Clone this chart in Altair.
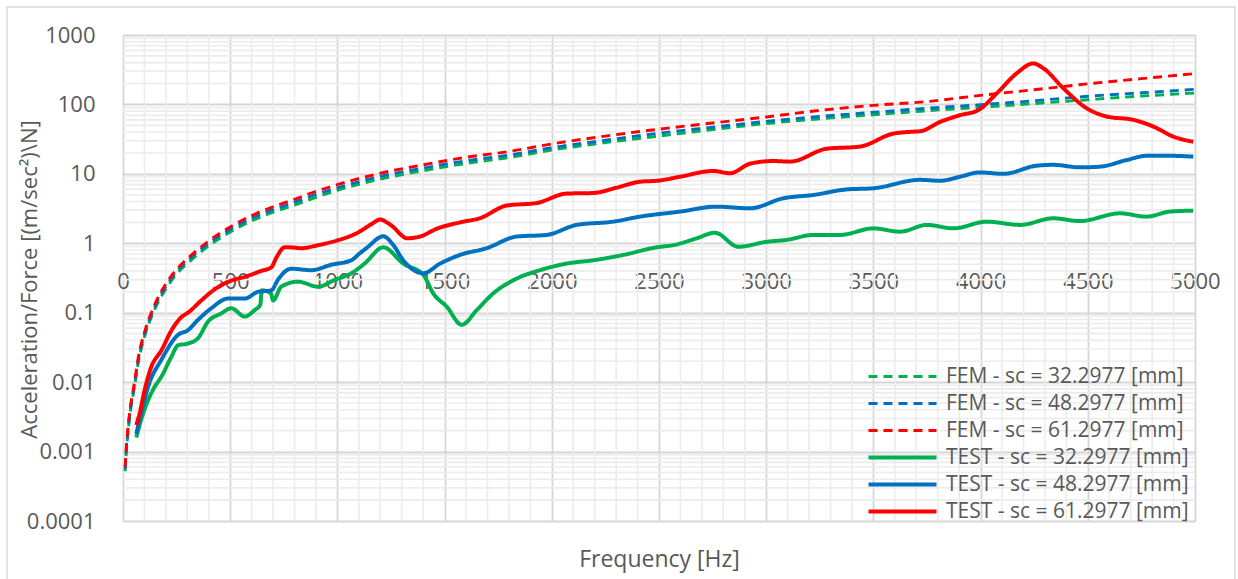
import altair as alt
import pandas as pd

# ---------------- data ----------------
SERIES = [
    "FEM - sc = 32.2977 [mm]",
    "FEM - sc = 48.2977 [mm]",
    "FEM - sc = 61.2977 [mm]",
    "TEST - sc = 32.2977 [mm]",
    "TEST - sc = 48.2977 [mm]",
    "TEST - sc = 61.2977 [mm]",
]
COLORS = ["#00b050", "#0070c0", "#ff0000", "#00b050", "#0070c0", "#ff0000"]
DASHES = [[9, 6], [9, 6], [9, 6], [1, 0], [1, 0], [1, 0]]
WIDTHS = [2.9, 2.9, 2.9, 4, 4, 4]

FEM_FREQ = [10, 15, 25, 35, 50, 75, 100, 150, 200, 250, 300, 400, 500, 600, 700, 800,
            900, 1000, 1200, 1400, 1600, 1800, 2000, 2250, 2500, 2750, 3000, 3250,
            3500, 3750, 4000, 4250, 4500, 4750, 5000]
FEM_32 = [0.00052, 0.00095, 0.0021, 0.0039, 0.0073, 0.022, 0.045, 0.115, 0.22, 0.36,
          0.51, 0.92, 1.45, 2.1, 2.8, 3.55, 4.6, 5.8, 8.4, 11.1, 14.1, 17.2, 22, 28.2,
          35, 43.5, 53, 62, 71, 81, 91, 103, 117, 132, 146]
FEM_48 = [0.00056, 0.001, 0.0023, 0.0042, 0.0079, 0.024, 0.048, 0.125, 0.24, 0.39,
          0.555, 1.0, 1.58, 2.3, 3.05, 3.9, 5.05, 6.3, 9.2, 12.1, 15.4, 18.6, 23.8, 30.5,
          38.5, 47, 57, 67, 77, 88, 99, 113, 131, 147, 165]
FEM_61 = [0.0006, 0.0011, 0.0025, 0.0045, 0.0085, 0.026, 0.052, 0.135, 0.26, 0.42,
          0.6, 1.08, 1.72, 2.5, 3.35, 4.3, 5.6, 7.0, 10.2, 13.5, 17.3, 21, 27, 35,
          44, 54, 66, 82, 97, 110, 135, 163, 198, 235, 278]

TEST_32_FREQ = [62, 85, 117, 148, 179, 225, 257, 303, 350, 396, 459, 505, 568, 614, 640,
                648, 690, 700, 738, 816, 910, 987, 1065, 1127, 1214, 1307, 1401, 1447,
                1510, 1580, 1650, 1727, 1836, 1945, 2069, 2194, 2334, 2489, 2567, 2676,
                2761, 2870, 3002, 3096, 3220, 3344, 3500, 3624, 3750, 3873, 4029, 4184,
                4339, 4463, 4650, 4774, 4883, 4992]
TEST_32 = [0.0016, 0.0029, 0.0055, 0.0086, 0.012, 0.023, 0.034, 0.036, 0.043, 0.074,
           0.098, 0.116, 0.088, 0.109, 0.13, 0.21, 0.19, 0.15, 0.237, 0.28, 0.237,
           0.296, 0.37, 0.51, 0.875, 0.51, 0.35, 0.19, 0.122, 0.067, 0.109, 0.19, 0.31,
           0.41, 0.51, 0.57, 0.68, 0.875, 0.94, 1.18, 1.42, 0.89, 1.05, 1.12, 1.32, 1.32,
           1.64, 1.47, 1.84, 1.64, 2.05, 1.84, 2.29, 2.09, 2.7, 2.42, 2.86, 2.95]

TEST_48_FREQ = [62, 85, 117, 179, 257, 303, 350, 412, 490, 568, 630, 692, 723, 785, 878,
                971, 1065, 1105, 1135, 1214, 1260, 1307, 1401, 1479, 1572, 1696, 1836,
                1976, 2116, 2287, 2411, 2598, 2769, 2924, 3080, 3220, 3375, 3500, 3717,
                3811, 3904, 3997, 4106, 4261, 4339, 4463, 4557, 4681, 4774, 4883, 4992]
TEST_48 = [0.0018, 0.0036, 0.0086, 0.021, 0.048, 0.056, 0.079, 0.116, 0.16, 0.16, 0.20,
           0.21, 0.30, 0.43, 0.41, 0.49, 0.57, 0.72, 0.85, 1.26, 0.95, 0.57, 0.37, 0.51,
           0.68, 0.85, 1.25, 1.32, 1.84, 2.05, 2.42, 2.86, 3.37, 3.19, 4.45, 4.97, 5.97,
           6.2, 8.2, 7.95, 9.1, 10.5, 10.0, 13.1, 13.5, 12.4, 12.7, 15.8, 18.2, 18.2, 17.7]

TEST_61_FREQ = [62, 78, 100, 130, 180, 225, 265, 310, 365, 430, 505, 570, 645, 692, 715,
                755, 790, 832, 910, 1000, 1100, 1160, 1200, 1230, 1262, 1300, 1323, 1385,
                1463, 1572, 1665, 1790, 1929, 2069, 2194, 2300, 2411, 2500, 2598, 2753,
                2832, 2924, 3033, 3111, 3282, 3437, 3593, 3686, 3717, 3811, 3904, 3990,
                4075, 4168, 4246, 4293, 4386, 4495, 4588, 4712, 4806, 4899, 4992]
TEST_61 = [0.0024, 0.0036, 0.0075, 0.016, 0.029, 0.055, 0.082, 0.104, 0.15, 0.22, 0.29,
           0.33, 0.40, 0.45, 0.62, 0.88, 0.87, 0.85, 0.94, 1.1, 1.45, 1.9, 2.2, 2.0, 1.7,
           1.3, 1.18, 1.25, 1.62, 2.0, 2.3, 3.5, 3.8, 5.2, 5.3, 6.3, 7.7, 8.0, 9.1, 11.0,
           10.2, 14.0, 15.3, 15.0, 23.0, 24.7, 38.0, 40.5, 41.0, 56.0, 70.0, 83.0, 144.0,
           280.0, 390.0, 331.0, 171.0, 88.0, 67.0, 60.0, 48.0, 34.4, 29.0]

Y_MAJOR = [0.0001, 0.001, 0.01, 0.1, 1, 10, 100, 1000]
X_MAJOR = [0, 500, 1000, 1500, 2000, 2500, 3000, 3500, 4000, 4500, 5000]

# minor grid positions (log minors 2..9 per decade, 100 Hz steps)
Y_MINOR = [m * d for d in [0.0001, 0.001, 0.01, 0.1, 1, 10, 100] for m in range(2, 10)]
X_MINOR = [f for f in range(100, 5000, 100) if f % 500 != 0]

# ---------------- build table ----------------
rows = []
for name, xs, ys in [
    (SERIES[0], FEM_FREQ, FEM_32),
    (SERIES[1], FEM_FREQ, FEM_48),
    (SERIES[2], FEM_FREQ, FEM_61),
    (SERIES[3], TEST_32_FREQ, TEST_32),
    (SERIES[4], TEST_48_FREQ, TEST_48),
    (SERIES[5], TEST_61_FREQ, TEST_61),
]:
    for f, v in zip(xs, ys):
        rows.append({"f": f, "v": v, "s": name})
df = pd.DataFrame(rows)

FONT = "Open Sans"
TXT = "#595959"
W, H = 1072, 486

xscale = alt.Scale(domain=[0, 5000], nice=False, zero=False)
yscale = alt.Scale(type="log", domain=[0.0001, 1000], nice=False)

XAXIS = alt.Axis(
    values=X_MAJOR, format="d", grid=True, gridColor="#d6d6d6", gridWidth=1.8,
    domain=False, ticks=False, tickSize=0, labelFlush=False, labelOverlap=False,
    offset=-(H - 208.3), labelPadding=28, labelFont=FONT, labelFontSize=22,
    labelColor=TXT, title="Frequency [Hz]", titleFont=FONT, titleFontSize=23,
    titleFontWeight="normal", titleColor=TXT, titleY=323,
    titleBaseline="alphabetic",
)
YAXIS = alt.Axis(
    values=Y_MAJOR, format="~g", grid=True, gridColor="#d6d6d6", gridWidth=1.8,
    domain=False, ticks=False, tickSize=0, labelFlush=False, labelOverlap=False,
    labelPadding=28, labelFont=FONT, labelFontSize=22, labelColor=TXT,
    title="Acceleration/Force [(m/sec²)\\N]", titleFont=FONT, titleFontSize=22,
    titleFontWeight="normal", titleColor=TXT, titleAngle=-90, titleX=-94,
    titleY=244, titleAlign="center", titleBaseline="middle",
)

minor_y = alt.Chart(pd.DataFrame({"v": Y_MINOR})).mark_rule(
    color="#ececec", strokeWidth=1.6
).encode(y=alt.Y("v:Q", scale=yscale, axis=YAXIS))

minor_x = alt.Chart(pd.DataFrame({"f": X_MINOR})).mark_rule(
    color="#ececec", strokeWidth=1.6
).encode(x=alt.X("f:Q", scale=xscale, axis=XAXIS))

lines = alt.Chart(df).mark_line(interpolate="monotone").encode(
    x=alt.X("f:Q", scale=xscale, axis=XAXIS),
    y=alt.Y("v:Q", scale=yscale, axis=YAXIS),
    color=alt.Color(
        "s:N",
        scale=alt.Scale(domain=SERIES, range=COLORS),
        legend=alt.Legend(
            orient="none", legendX=769, legendY=331, title=None, padding=0,
            symbolType="M-5,0H5", symbolSize=185, labelOffset=33, rowPadding=5,
            labelFont=FONT, labelFontSize=21, labelColor=TXT, labelLimit=0,
        ),
    ),
    strokeDash=alt.StrokeDash("s:N", scale=alt.Scale(domain=SERIES, range=DASHES)),
    strokeWidth=alt.StrokeWidth(
        "s:N", scale=alt.Scale(type="ordinal", domain=SERIES, range=WIDTHS)
    ),
)

frame = alt.Chart(pd.DataFrame({"a": [0]})).mark_rect(
    filled=False, stroke="#d9d9d9", strokeWidth=1.5
).encode(
    x=alt.value(-116), x2=alt.value(1112), y=alt.value(-28), y2=alt.value(560)
)

chart = alt.layer(minor_y, minor_x, lines, frame).properties(
    width=W,
    height=H,
    autosize=alt.AutoSizeParams(type="none"),
    padding={"left": 123, "top": 35, "right": 43, "bottom": 58},
    background="white",
).configure_view(stroke=None)

chart.save("out.html", embed_options={"renderer": "svg", "actions": False})
